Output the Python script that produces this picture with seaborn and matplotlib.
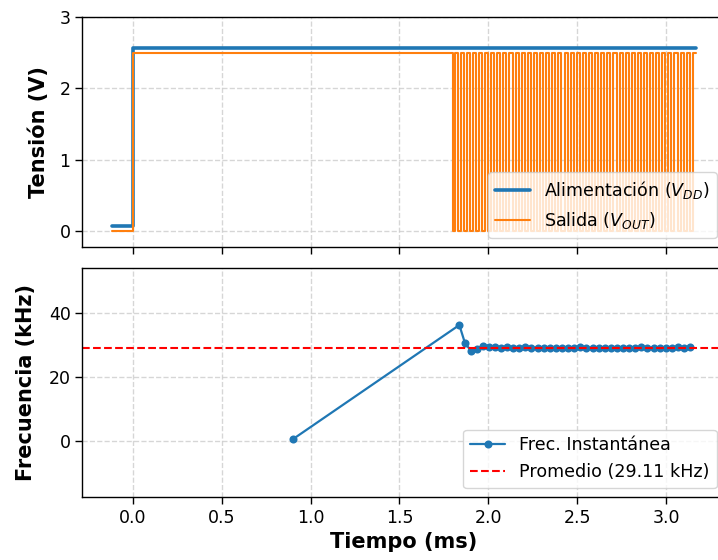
import numpy as np
import matplotlib
matplotlib.use("Agg")
import matplotlib.pyplot as plt
import seaborn as sns
import pandas as pd

# Supply rail (V_DD): off level, then on level after power-up
t_start = -0.12
t_power_on = 0.0
t_end = 3.17
vdd_off = 0.07
vdd_on = 2.57

# Output (V_OUT): held high after power-up, then oscillating
vout_low = 0.0
vout_high = 2.50
fall_times = [1.800, 1.828, 1.861, 1.897, 1.931, 1.965, 1.999, 2.034, 2.068, 2.102,
              2.137, 2.171, 2.206, 2.240, 2.274, 2.309, 2.343, 2.378, 2.412, 2.446,
              2.481, 2.515, 2.550, 2.584, 2.618, 2.653, 2.687, 2.722, 2.756, 2.790,
              2.825, 2.859, 2.894, 2.928, 2.962, 2.997, 3.031, 3.066, 3.100, 3.134]
rise_times = [1.814, 1.844, 1.879, 1.914, 1.948, 1.982, 2.016, 2.051, 2.085, 2.119,
              2.154, 2.188, 2.223, 2.257, 2.291, 2.326, 2.360, 2.395, 2.429, 2.463,
              2.498, 2.532, 2.567, 2.601, 2.635, 2.670, 2.704, 2.739, 2.773, 2.807,
              2.842, 2.876, 2.911, 2.945, 2.979, 3.014, 3.048, 3.083, 3.117, 3.151]

# Instantaneous frequency (kHz) per cycle
freq_t = [0.900, 1.837, 1.869, 1.904, 1.936, 1.968, 2.002, 2.036, 2.071, 2.105,
          2.140, 2.174, 2.208, 2.243, 2.277, 2.312, 2.346, 2.380, 2.415, 2.449,
          2.484, 2.518, 2.552, 2.587, 2.621, 2.656, 2.690, 2.724, 2.759, 2.793,
          2.828, 2.862, 2.896, 2.931, 2.965, 3.000, 3.034, 3.068, 3.103, 3.137]
freq_khz = [0.55, 36.2, 30.5, 28.1, 28.7, 29.6, 29.4, 29.2, 29.1, 29.2,
            29.0, 29.1, 29.2, 29.0, 29.1, 29.0, 29.1, 29.0, 28.9, 29.1,
            29.0, 29.2, 29.0, 28.9, 29.1, 29.0, 29.1, 29.0, 29.1, 28.9,
            29.0, 29.2, 29.0, 29.1, 29.0, 29.1, 29.0, 29.2, 29.1, 29.2]
freq_mean = 29.11

# Build step traces from the level/edge lists
vdd_t = [t_start, t_power_on, t_power_on, t_end]
vdd_v = [vdd_off, vdd_off, vdd_on, vdd_on]

out_t = [t_start, t_power_on, t_power_on]
out_v = [vout_low, vout_low, vout_high]
for f, r in zip(fall_times, rise_times):
    out_t += [f, f, r, r]
    out_v += [vout_high, vout_low, vout_low, vout_high]
out_t.append(t_end)
out_v.append(vout_high)

df_vdd = pd.DataFrame({"t": vdd_t, "v": vdd_v})
df_out = pd.DataFrame({"t": out_t, "v": out_v})
df_freq = pd.DataFrame({"t": freq_t, "f": freq_khz})

sns.set_theme(style="ticks")
plt.rcParams["font.family"] = ["DejaVu Sans"]
plt.rcParams["text.color"] = "black"
plt.rcParams["axes.labelcolor"] = "black"
plt.rcParams["xtick.color"] = "black"
plt.rcParams["ytick.color"] = "black"

fig = plt.figure(figsize=(7.18, 5.6), dpi=100)
# axes run slightly past the right edge of the canvas
ax1 = fig.add_axes([0.1148, 0.559, 0.8955, 0.4106])
ax2 = fig.add_axes([0.1148, 0.1125, 0.8955, 0.4089], sharex=ax1)

blue = "#1f77b4"
orange = "#ff7f0e"

sns.lineplot(data=df_vdd, x="t", y="v", ax=ax1, color=blue, lw=2.6,
             label=r"Alimentación ($V_{DD}$)", sort=False, estimator=None)
sns.lineplot(data=df_out, x="t", y="v", ax=ax1, color=orange, lw=1.5,
             label=r"Salida ($V_{OUT}$)", sort=False, estimator=None)

sns.lineplot(data=df_freq, x="t", y="f", ax=ax2, color=blue, lw=1.6,
             marker="o", markersize=5.8, markeredgewidth=0,
             label="Frec. Instantánea", sort=False, estimator=None)
ax2.axhline(freq_mean, color="red", ls="--", lw=1.5,
            label=f"Promedio ({freq_mean:.2f} kHz)")

for ax in (ax1, ax2):
    ax.grid(True, ls="--", color="#cccccc", alpha=0.8, lw=1)
    for s in ax.spines.values():
        s.set_color("black")
        s.set_linewidth(1.0)
    ax.tick_params(labelsize=12.5, length=5, width=1, color="black",
                   labelcolor="black")

ax1.set_xlim(-0.2845, 3.3345)
ax1.set_ylim(-0.22, 3.0)
ax1.set_yticks([0, 1, 2, 3])
ax1.tick_params(labelbottom=False)
ax1.set_xlabel("")
ax1.set_ylabel("Tensión (V)", fontsize=15, fontweight="bold", labelpad=8)

ax2.set_ylim(-17.5, 54)
ax2.set_yticks([0, 20, 40])
ax2.set_xticks([0.0, 0.5, 1.0, 1.5, 2.0, 2.5, 3.0])
ax2.set_xticklabels(["0.0", "0.5", "1.0", "1.5", "2.0", "2.5", "3.0"])
ax2.set_xlabel("Tiempo (ms)", fontsize=15, fontweight="bold")
ax2.set_ylabel("Frecuencia (kHz)", fontsize=15, fontweight="bold", labelpad=9)

ax1.legend(loc="lower right", fontsize=12.6, framealpha=0.8, borderaxespad=0.5)
ax2.legend(loc="lower right", fontsize=12.6, framealpha=0.8, borderaxespad=0.5)

fig.savefig("out.png", dpi=100)
